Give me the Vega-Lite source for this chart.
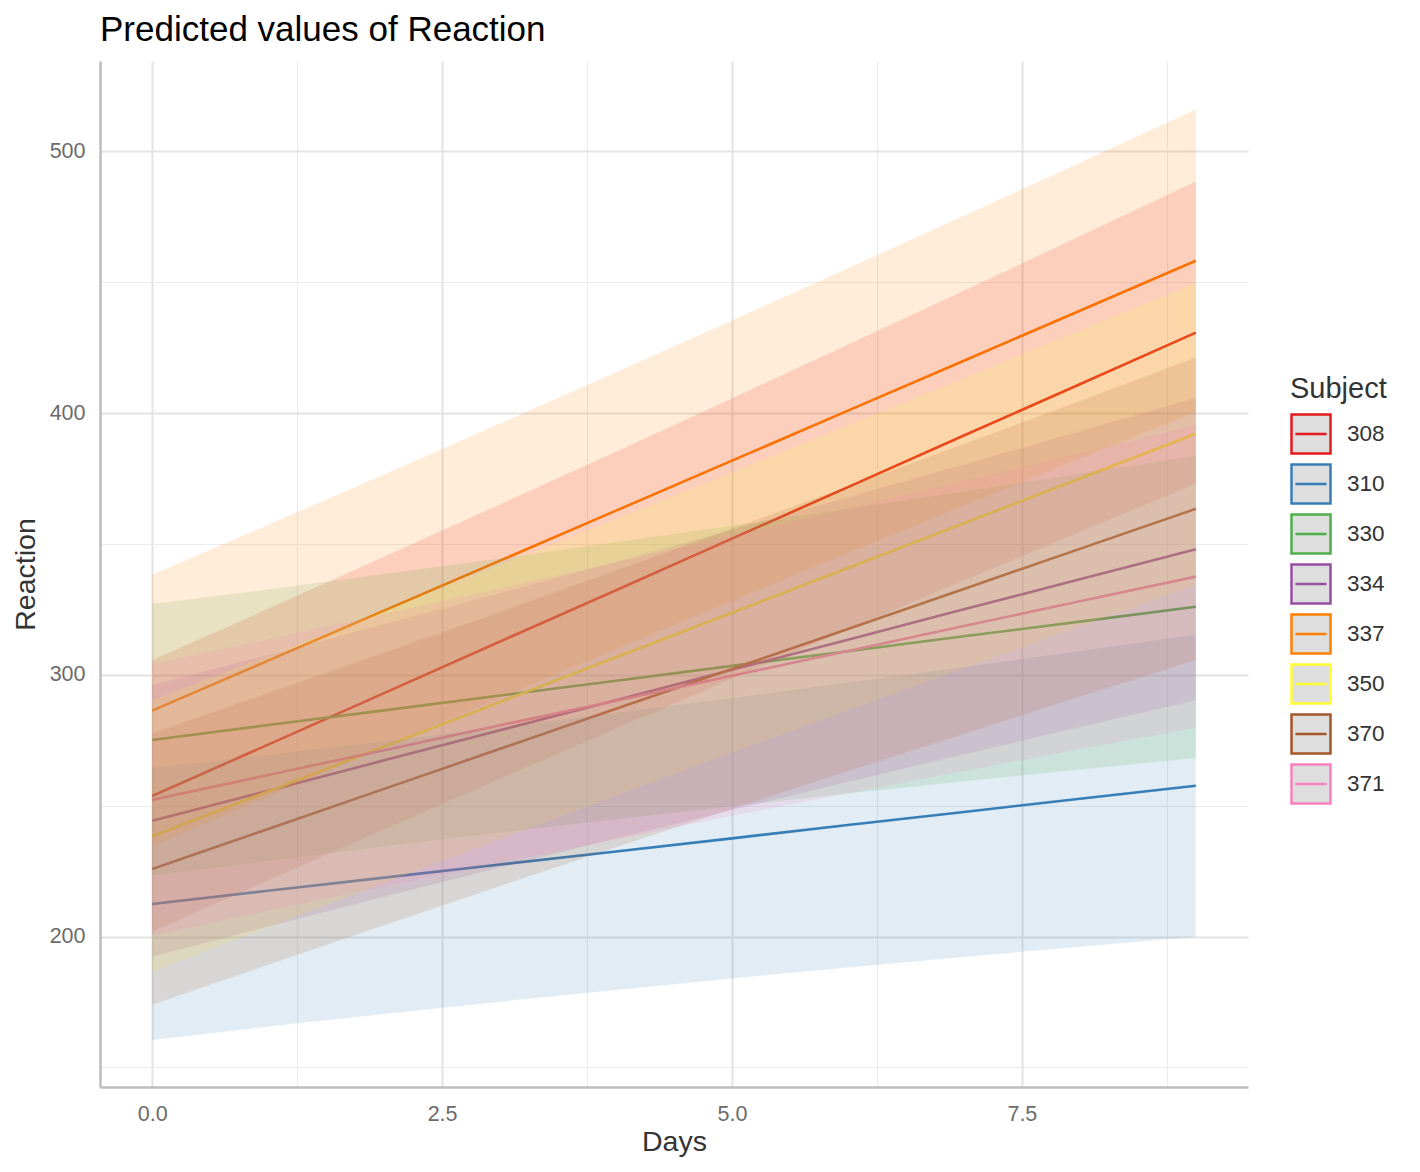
{
  "$schema": "https://vega.github.io/schema/vega-lite/v6.json",
  "width": 1148,
  "height": 1026,
  "autosize": {"type": "none"},
  "padding": {"left": 100, "top": 61, "right": 172, "bottom": 85},
  "background": "white",
  "title": {
    "text": "Predicted values of Reaction",
    "anchor": "start",
    "frame": "group",
    "font": "Liberation Sans",
    "fontSize": 35,
    "fontWeight": "normal",
    "color": "#000000",
    "baseline": "alphabetic",
    "offset": 19.5,
    "dy": 34
  },
  "data": {
    "values": [
      {"Subject": "308", "Days": 0, "Reaction": 253.7, "lower": 201.8, "upper": 305.6},
      {"Subject": "308", "Days": 1, "Reaction": 273.3, "lower": 221.4, "upper": 325.2},
      {"Subject": "308", "Days": 2, "Reaction": 293.0, "lower": 241.0, "upper": 345.1},
      {"Subject": "308", "Days": 3, "Reaction": 312.7, "lower": 260.3, "upper": 365.1},
      {"Subject": "308", "Days": 4, "Reaction": 332.3, "lower": 279.5, "upper": 385.2},
      {"Subject": "308", "Days": 5, "Reaction": 352.0, "lower": 298.5, "upper": 405.6},
      {"Subject": "308", "Days": 6, "Reaction": 371.7, "lower": 317.3, "upper": 426.1},
      {"Subject": "308", "Days": 7, "Reaction": 391.4, "lower": 336.0, "upper": 446.7},
      {"Subject": "308", "Days": 8, "Reaction": 411.0, "lower": 354.5, "upper": 467.5},
      {"Subject": "308", "Days": 9, "Reaction": 430.7, "lower": 372.9, "upper": 488.5},
      {"Subject": "310", "Days": 0, "Reaction": 212.4, "lower": 160.5, "upper": 264.4},
      {"Subject": "310", "Days": 1, "Reaction": 217.5, "lower": 165.6, "upper": 269.4},
      {"Subject": "310", "Days": 2, "Reaction": 222.5, "lower": 170.4, "upper": 274.5},
      {"Subject": "310", "Days": 3, "Reaction": 227.5, "lower": 175.1, "upper": 279.9},
      {"Subject": "310", "Days": 4, "Reaction": 232.5, "lower": 179.6, "upper": 285.4},
      {"Subject": "310", "Days": 5, "Reaction": 237.5, "lower": 184.0, "upper": 291.1},
      {"Subject": "310", "Days": 6, "Reaction": 242.6, "lower": 188.2, "upper": 297.0},
      {"Subject": "310", "Days": 7, "Reaction": 247.6, "lower": 192.2, "upper": 303.0},
      {"Subject": "310", "Days": 8, "Reaction": 252.6, "lower": 196.1, "upper": 309.1},
      {"Subject": "310", "Days": 9, "Reaction": 257.6, "lower": 199.9, "upper": 315.4},
      {"Subject": "330", "Days": 0, "Reaction": 275.1, "lower": 223.2, "upper": 327.0},
      {"Subject": "330", "Days": 1, "Reaction": 280.8, "lower": 228.9, "upper": 332.6},
      {"Subject": "330", "Days": 2, "Reaction": 286.4, "lower": 234.4, "upper": 338.5},
      {"Subject": "330", "Days": 3, "Reaction": 292.1, "lower": 239.7, "upper": 344.4},
      {"Subject": "330", "Days": 4, "Reaction": 297.7, "lower": 244.8, "upper": 350.6},
      {"Subject": "330", "Days": 5, "Reaction": 303.4, "lower": 249.8, "upper": 356.9},
      {"Subject": "330", "Days": 6, "Reaction": 309.0, "lower": 254.6, "upper": 363.4},
      {"Subject": "330", "Days": 7, "Reaction": 314.7, "lower": 259.3, "upper": 370.0},
      {"Subject": "330", "Days": 8, "Reaction": 320.3, "lower": 263.8, "upper": 376.8},
      {"Subject": "330", "Days": 9, "Reaction": 326.0, "lower": 268.2, "upper": 383.7},
      {"Subject": "334", "Days": 0, "Reaction": 244.2, "lower": 192.3, "upper": 296.1},
      {"Subject": "334", "Days": 1, "Reaction": 255.7, "lower": 203.8, "upper": 307.6},
      {"Subject": "334", "Days": 2, "Reaction": 267.3, "lower": 215.2, "upper": 319.3},
      {"Subject": "334", "Days": 3, "Reaction": 278.8, "lower": 226.4, "upper": 331.2},
      {"Subject": "334", "Days": 4, "Reaction": 290.3, "lower": 237.4, "upper": 343.2},
      {"Subject": "334", "Days": 5, "Reaction": 301.9, "lower": 248.3, "upper": 355.4},
      {"Subject": "334", "Days": 6, "Reaction": 313.4, "lower": 259.0, "upper": 367.8},
      {"Subject": "334", "Days": 7, "Reaction": 325.0, "lower": 269.6, "upper": 380.3},
      {"Subject": "334", "Days": 8, "Reaction": 336.5, "lower": 280.0, "upper": 393.0},
      {"Subject": "334", "Days": 9, "Reaction": 348.0, "lower": 290.3, "upper": 405.8},
      {"Subject": "337", "Days": 0, "Reaction": 286.3, "lower": 234.4, "upper": 338.2},
      {"Subject": "337", "Days": 1, "Reaction": 305.4, "lower": 253.5, "upper": 357.3},
      {"Subject": "337", "Days": 2, "Reaction": 324.5, "lower": 272.4, "upper": 376.5},
      {"Subject": "337", "Days": 3, "Reaction": 343.6, "lower": 291.2, "upper": 396.0},
      {"Subject": "337", "Days": 4, "Reaction": 362.7, "lower": 309.8, "upper": 415.6},
      {"Subject": "337", "Days": 5, "Reaction": 381.8, "lower": 328.2, "upper": 435.4},
      {"Subject": "337", "Days": 6, "Reaction": 400.9, "lower": 346.5, "upper": 455.3},
      {"Subject": "337", "Days": 7, "Reaction": 420.0, "lower": 364.6, "upper": 475.4},
      {"Subject": "337", "Days": 8, "Reaction": 439.1, "lower": 382.6, "upper": 495.6},
      {"Subject": "337", "Days": 9, "Reaction": 458.2, "lower": 400.4, "upper": 516.0},
      {"Subject": "350", "Days": 0, "Reaction": 238.3, "lower": 186.4, "upper": 290.2},
      {"Subject": "350", "Days": 1, "Reaction": 255.4, "lower": 203.5, "upper": 307.3},
      {"Subject": "350", "Days": 2, "Reaction": 272.5, "lower": 220.4, "upper": 324.5},
      {"Subject": "350", "Days": 3, "Reaction": 289.6, "lower": 237.2, "upper": 342.0},
      {"Subject": "350", "Days": 4, "Reaction": 306.7, "lower": 253.8, "upper": 359.5},
      {"Subject": "350", "Days": 5, "Reaction": 323.7, "lower": 270.2, "upper": 377.3},
      {"Subject": "350", "Days": 6, "Reaction": 340.8, "lower": 286.4, "upper": 395.2},
      {"Subject": "350", "Days": 7, "Reaction": 357.9, "lower": 302.5, "upper": 413.3},
      {"Subject": "350", "Days": 8, "Reaction": 375.0, "lower": 318.5, "upper": 431.5},
      {"Subject": "350", "Days": 9, "Reaction": 392.1, "lower": 334.3, "upper": 449.8},
      {"Subject": "370", "Days": 0, "Reaction": 225.8, "lower": 173.9, "upper": 277.7},
      {"Subject": "370", "Days": 1, "Reaction": 241.1, "lower": 189.2, "upper": 293.0},
      {"Subject": "370", "Days": 2, "Reaction": 256.4, "lower": 204.3, "upper": 308.4},
      {"Subject": "370", "Days": 3, "Reaction": 271.7, "lower": 219.3, "upper": 324.0},
      {"Subject": "370", "Days": 4, "Reaction": 287.0, "lower": 234.1, "upper": 339.8},
      {"Subject": "370", "Days": 5, "Reaction": 302.2, "lower": 248.7, "upper": 355.8},
      {"Subject": "370", "Days": 6, "Reaction": 317.5, "lower": 263.1, "upper": 371.9},
      {"Subject": "370", "Days": 7, "Reaction": 332.8, "lower": 277.4, "upper": 388.2},
      {"Subject": "370", "Days": 8, "Reaction": 348.1, "lower": 291.6, "upper": 404.6},
      {"Subject": "370", "Days": 9, "Reaction": 363.4, "lower": 305.6, "upper": 421.2},
      {"Subject": "371", "Days": 0, "Reaction": 252.2, "lower": 200.3, "upper": 304.1},
      {"Subject": "371", "Days": 1, "Reaction": 261.7, "lower": 209.8, "upper": 313.6},
      {"Subject": "371", "Days": 2, "Reaction": 271.2, "lower": 219.1, "upper": 323.2},
      {"Subject": "371", "Days": 3, "Reaction": 280.7, "lower": 228.3, "upper": 333.0},
      {"Subject": "371", "Days": 4, "Reaction": 290.1, "lower": 237.2, "upper": 343.0},
      {"Subject": "371", "Days": 5, "Reaction": 299.6, "lower": 246.1, "upper": 353.2},
      {"Subject": "371", "Days": 6, "Reaction": 309.1, "lower": 254.7, "upper": 363.5},
      {"Subject": "371", "Days": 7, "Reaction": 318.6, "lower": 263.2, "upper": 374.0},
      {"Subject": "371", "Days": 8, "Reaction": 328.1, "lower": 271.6, "upper": 384.6},
      {"Subject": "371", "Days": 9, "Reaction": 337.5, "lower": 279.8, "upper": 395.3}
    ]
  },
  "encoding": {
    "x": {
      "field": "Days",
      "type": "quantitative",
      "title": "Days",
      "scale": {"domain": [-0.45, 9.45], "nice": false, "zero": false},
      "axis": {
        "values": [0, 1.25, 2.5, 3.75, 5, 6.25, 7.5, 8.75],
        "labelExpr": "datum.value % 2.5 === 0 ? format(datum.value, '.1f') : ''",
        "gridWidth": {"condition": {"test": "datum.value % 2.5 === 0", "value": 2}, "value": 1.1},
        "gridColor": {"condition": {"test": "datum.value % 2.5 === 0", "value": "#e3e3e3"}, "value": "#ebebeb"},
        "labelPadding": 16,
        "titlePadding": 3
      }
    }
  },
  "layer": [
    {
      "mark": {"type": "line", "strokeWidth": 2.6},
      "encoding": {
        "y": {
          "field": "Reaction",
          "type": "quantitative",
          "title": "Reaction",
          "scale": {"domain": [142.5, 534.5], "nice": false, "zero": false},
          "axis": {
            "values": [150, 200, 250, 300, 350, 400, 450, 500],
            "labelExpr": "datum.value % 100 === 0 ? datum.label : ''",
            "gridWidth": {"condition": {"test": "datum.value % 100 === 0", "value": 2}, "value": 1.1},
            "gridColor": {"condition": {"test": "datum.value % 100 === 0", "value": "#e3e3e3"}, "value": "#ebebeb"},
            "labelPadding": 15,
            "titlePadding": 9
          }
        },
        "stroke": {
          "field": "Subject",
          "type": "nominal",
          "scale": {
            "domain": ["308", "310", "330", "334", "337", "350", "370", "371"],
            "range": ["#E41A1C", "#377EB8", "#4DAF4A", "#984EA3", "#FF7F00", "#FFFF33", "#A65628", "#F781BF"]
          },
          "legend": {
            "orient": "none",
            "legendX": 1190,
            "legendY": 314,
            "title": "Subject",
            "titleFont": "Liberation Sans",
            "titleFontSize": 29,
            "titleFontWeight": "normal",
            "titleColor": "#333333",
            "titlePadding": 9,
            "labelFont": "Liberation Sans",
            "labelFontSize": 22.5,
            "labelColor": "#333333",
            "labelOffset": 15,
            "symbolType": "M-1,-1H1V1H-1Z M-0.8,0H0.8",
            "symbolSize": 1521,
            "symbolStrokeWidth": 2.5,
            "symbolFillColor": "#dedede",
            "rowPadding": 0,
            "padding": 0,
            "encode": {
              "symbols": {
                "update": {
                  "fill": {"value": "#dedede"},
                  "fillOpacity": {"value": 1},
                  "opacity": {"value": 1},
                  "strokeWidth": {"value": 2.5}
                }
              }
            }
          }
        }
      }
    },
    {
      "mark": {"type": "area", "fillOpacity": 0.15},
      "encoding": {
        "y": {
          "field": "lower",
          "type": "quantitative",
          "title": "Reaction",
          "stack": null,
          "scale": {"domain": [142.5, 534.5], "nice": false, "zero": false}
        },
        "y2": {"field": "upper"},
        "fill": {
          "field": "Subject",
          "type": "nominal",
          "scale": {
            "range": ["#E41A1C", "#377EB8", "#4DAF4A", "#984EA3", "#FF7F00", "#FFFF33", "#A65628", "#F781BF"]
          },
          "legend": null
        }
      }
    }
  ],
  "config": {
    "view": {"stroke": null},
    "font": "Liberation Sans",
    "legend": {"symbolFillColor": "#dedede"},
    "axis": {
      "grid": true,
      "ticks": false,
      "domain": true,
      "domainColor": "#bdbdbd",
      "domainWidth": 2.5,
      "labelFont": "Liberation Sans",
      "labelFontSize": 21.5,
      "labelColor": "#6b6b6b",
      "labelOverlap": false,
      "labelBound": false,
      "labelFlush": false,
      "titleFont": "Liberation Sans",
      "titleFontSize": 28.5,
      "titleFontWeight": "normal",
      "titleColor": "#333333"
    }
  }
}
